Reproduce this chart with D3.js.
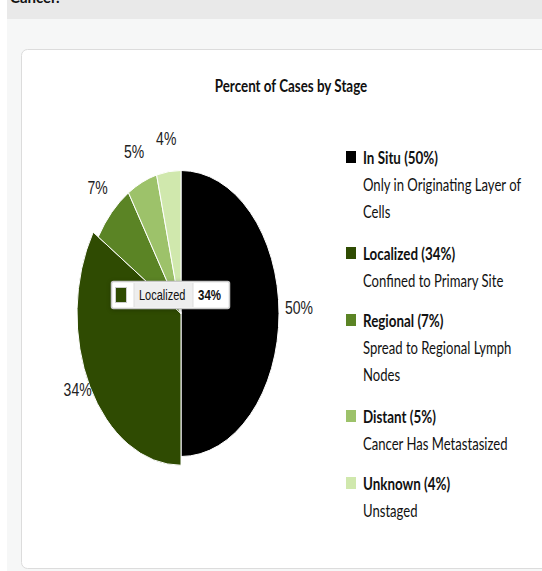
<!DOCTYPE html>
<html><head><meta charset="utf-8">
<script src="https://cdn.jsdelivr.net/npm/d3@7"></script>
<style>html,body{margin:0;padding:0;background:#fff;overflow:hidden}</style>
</head><body>
<svg id="c" width="542" height="571"></svg>
<script>
const categories = ["In Situ","Localized","Regional","Distant","Unknown"];
const values = [50,34,7,5,4];
const descriptions = [["Only in Originating Layer of","Cells"],["Confined to Primary Site"],["Spread to Regional Lymph","Nodes"],["Cancer Has Metastasized"],["Unstaged"]];
const colors = ["#000000","#2f4b02","#5b8425","#9dc26a","#d0e8ad"];
const title = "Percent of Cases by Stage";

const svg = d3.select("#c");
// page background
svg.append("rect").attr("x",7).attr("y",0).attr("width",535).attr("height",19).attr("fill","#e9e9e9");
svg.append("text").attr("x",10).attr("y",3).attr("font-family","Lato").attr("font-weight","bold").attr("font-size",15).attr("fill","#111").text("Cancer.");
svg.append("rect").attr("x",7).attr("y",19).attr("width",535).attr("height",552).attr("fill","#f6f7f7");
svg.append("rect").attr("x",21.5).attr("y",49.5).attr("width",540).attr("height",519).attr("rx",6)
  .attr("fill","#fff").attr("stroke","#dcdcdc");

function stext(g, x, y, str, size, fam, weight, k, anchor){
  return g.append("text").attr("transform",`translate(${x},${y}) scale(1,${k})`)
    .attr("font-family",fam).attr("font-size",size).attr("font-weight",weight||"normal")
    .attr("text-anchor",anchor||"start").attr("dominant-baseline","central").attr("fill","#111").text(str);
}
// title
stext(svg, 291, 85, title, 13.4, "Lato", "bold", 1.33, "middle");

// pie
const cx = 181, cy = 313.5, r = 98, ky = 143/98;
const pie = d3.pie().sort(null).value(d=>d)(values);
const arc = d3.arc().innerRadius(0);
const pg = svg.append("g").attr("transform",`translate(${cx},${cy}) scale(1,${ky})`);
const highlighted = 1;
pie.forEach((p,i)=>{
  pg.append("path").attr("d",arc.outerRadius(i===highlighted ? r+6 : r)(p))
    .attr("fill",colors[i]).attr("stroke","#fff").attr("stroke-width",1)
    .attr("vector-effect","non-scaling-stroke");
});
// labels
const lrx = 118, lry = 170, lcy = 307;
pie.forEach((p,i)=>{
  const mid = (p.startAngle+p.endAngle)/2;
  stext(svg, cx + Math.sin(mid)*lrx, lcy - Math.cos(mid)*lry, values[i]+"%", 14, "Liberation Sans", "normal", 1.3, "middle").attr("fill","#222");
});

// tooltip
const tt = svg.append("g");
tt.append("rect").attr("x",111.5).attr("y",281.5).attr("width",118).attr("height",27).attr("rx",2)
  .attr("fill","#fff").attr("stroke","#c8c8c8").attr("stroke-width",1.5)
  .style("filter","drop-shadow(0 1px 2px rgba(0,0,0,0.25))");
tt.append("rect").attr("x",134).attr("y",283).attr("width",59).attr("height",24).attr("fill","#eeeeee");
tt.append("line").attr("x1",134).attr("x2",134).attr("y1",283).attr("y2",307).attr("stroke","#ddd");
tt.append("line").attr("x1",193).attr("x2",193).attr("y1",283).attr("y2",307).attr("stroke","#ddd");
tt.append("rect").attr("x",115.5).attr("y",287.5).attr("width",11).attr("height",15).attr("fill",colors[1]).attr("stroke","#ccc");
stext(tt, 139, 295, categories[1], 11, "Liberation Sans", "normal", 1.3, "start");
stext(tt, 198, 295, values[1]+"%", 11.5, "Liberation Sans", "bold", 1.3, "start");

// legend
const lg = svg.append("g");
const headY = [157,253,320,416,483];
const lineH = 27;
categories.forEach((c,i)=>{
  const y = headY[i];
  lg.append("rect").attr("x",346).attr("y",y-6).attr("width",10).attr("height",12).attr("fill",colors[i]);
  stext(lg, 363, y, `${c} (${values[i]}%)`, 13.4, "Lato", "bold", 1.33);
  descriptions[i].forEach((d,j)=>{
    stext(lg, 363, y + lineH*(j+1), d, 13.1, "Lato", "normal", 1.33);
  });
});
</script>
</body></html>
